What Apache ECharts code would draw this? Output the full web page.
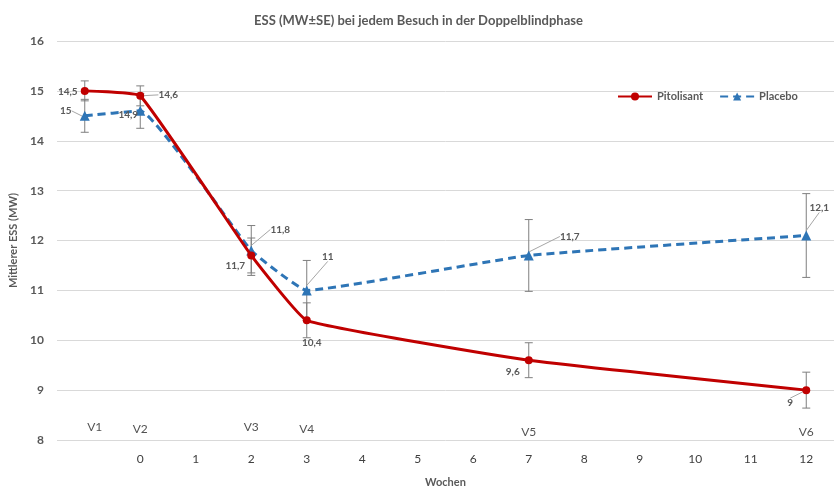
<!DOCTYPE html>
<html>
<head>
<meta charset="utf-8">
<script src="https://cdn.jsdelivr.net/npm/echarts@6/dist/echarts.min.js"></script>
<style>
html,body{margin:0;padding:0;background:#fff;}
#main{width:837px;height:493px;}
</style>
</head>
<body>
<div id="main"></div>
<script>
// ---- data ----
const weeks = [-1, 0, 2, 3, 7, 12];
const visits = ['V1', 'V2', 'V3', 'V4', 'V5', 'V6'];
const visitLabelY = [8.25, 8.22, 8.25, 8.22, 8.16, 8.16];
const pitolisant = [15.0, 14.9, 11.7, 10.4, 9.6, 9.0];
const placebo = [14.5, 14.6, 11.8, 11.0, 11.7, 12.1];
const pitolisantSE = [0.2, 0.2, 0.35, 0.35, 0.35, 0.36];
const placeboSE = [0.33, 0.35, 0.5, 0.6, 0.72, 0.84];
const pitolisantLabels = ['14,5', '14,6', '11,7', '10,4', '9,6', '9'];
const placeboLabels = ['15', '14,9', '11,8', '11', '11,7', '12,1'];
const yTicks = [8, 9, 10, 11, 12, 13, 14, 15, 16];

// ---- label placement (styling) ----
const pitOffsets = [[-17, 1], [28, -1], [-16, 10], [5, 22], [-16, 12], [-16, 13]];
const pitLeader = [false, true, false, false, false, true];
const plaOffsets = [[-19, -5], [-12, 4], [29, -21], [21, -34], [41, -19], [13, -28]];
const plaLeader = [true, false, true, true, true, true];
const visitOffsets = [[10, 0], [0, 0], [0, 0], [0, 0], [0, 0], [0, 0]];

const FONT = 'Lato, "Liberation Sans", sans-serif';
const GRAY = '#595959';
const RED = '#C00000';
const BLUE = '#2E75B6';

function seriesData(vals, labels, leaders) {
  return weeks.map((w, i) => ({
    value: [w, vals[i]],
    label: { formatter: labels[i] },
    labelLine: { show: leaders[i] }
  }));
}
function errData(vals, se) {
  return weeks.map((w, i) => [w, vals[i] - se[i], vals[i] + se[i]]);
}
function errRender(params, api) {
  const x = api.value(0);
  const lo = api.coord([x, api.value(1)]);
  const hi = api.coord([x, api.value(2)]);
  const cap = 4;
  const st = { stroke: '#7F7F7F', lineWidth: 1 };
  return {
    type: 'group',
    children: [
      { type: 'line', shape: { x1: lo[0], y1: lo[1], x2: hi[0], y2: hi[1] }, style: st },
      { type: 'line', shape: { x1: lo[0] - cap, y1: lo[1], x2: lo[0] + cap, y2: lo[1] }, style: st },
      { type: 'line', shape: { x1: hi[0] - cap, y1: hi[1], x2: hi[0] + cap, y2: hi[1] }, style: st }
    ]
  };
}
function layoutFor(offsets) {
  return function (p) {
    const o = offsets[p.dataIndex];
    return { dx: o[0], dy: o[1] };
  };
}
const labelStyle = {
  show: true, position: 'inside', align: 'center', verticalAlign: 'middle',
  color: GRAY, fontFamily: FONT, fontSize: 10, fontWeight: 'bold'
};
const labelLineStyle = { lineStyle: { color: '#A6A6A6', width: 1 }, length2: 0 };

const chart = echarts.init(document.getElementById('main'), null, { renderer: 'canvas' });
chart.setOption({
  backgroundColor: '#fff',
  animation: false,
  textStyle: { fontFamily: FONT },
  title: {
    text: 'ESS (MW±SE) bei jedem Besuch in der Doppelblindphase',
    left: 'center', top: 9,
    textStyle: { fontFamily: FONT, fontSize: 13, fontWeight: 'bold', color: GRAY }
  },
  legend: {
    left: 612, top: 86, itemWidth: 34, itemHeight: 10, itemGap: 16,
    textStyle: { fontFamily: FONT, fontSize: 11, fontWeight: 'bold', color: GRAY },
    data: ['Pitolisant', 'Placebo']
  },
  grid: { left: 50, right: -5, top: 41, bottom: 45, containLabel: false },
  xAxis: {
    type: 'value', min: -1.5, max: 12.5, interval: 0.5,
    name: 'Wochen', nameLocation: 'middle', nameGap: 37,
    nameTextStyle: { fontFamily: FONT, fontSize: 11, fontWeight: 'bold', color: GRAY },
    axisLine: { show: false }, axisTick: { show: false }, splitLine: { show: false },
    axisLabel: {
      margin: 13, color: '#404040', fontFamily: FONT, fontSize: 12,
      showMinLabel: true, showMaxLabel: true,
      formatter: v => (v >= 0 && Number.isInteger(v) && v <= 12) ? String(v) : ''
    }
  },
  yAxis: {
    type: 'value', min: yTicks[0], max: yTicks[yTicks.length - 1], interval: 1,
    name: 'Mittlerer ESS (MW)', nameLocation: 'middle', nameGap: 38,
    nameTextStyle: { fontFamily: FONT, fontSize: 11, fontWeight: 'bold', color: GRAY },
    axisLine: { show: false }, axisTick: { show: false },
    splitLine: { lineStyle: { color: '#D9D9D9', width: 1 } },
    axisLabel: { margin: 13, color: GRAY, fontFamily: FONT, fontSize: 12, fontWeight: 'bold' }
  },
  series: [
    {
      type: 'custom', name: 'errPit', renderItem: errRender, data: errData(pitolisant, pitolisantSE),
      z: 1, silent: true, encode: { x: 0, y: [1, 2] }
    },
    {
      type: 'custom', name: 'errPla', renderItem: errRender, data: errData(placebo, placeboSE),
      z: 1, silent: true, encode: { x: 0, y: [1, 2] }
    },
    {
      type: 'line', name: 'Pitolisant', smooth: 0.1, z: 3,
      data: seriesData(pitolisant, pitolisantLabels, pitLeader),
      symbol: 'circle', symbolSize: 8,
      lineStyle: { color: RED, width: 3 },
      itemStyle: { color: RED },
      label: labelStyle, labelLine: labelLineStyle,
      labelLayout: layoutFor(pitOffsets)
    },
    {
      type: 'line', name: 'Placebo', smooth: 0.1, z: 2,
      data: seriesData(placebo, placeboLabels, plaLeader),
      symbol: 'triangle', symbolSize: 10,
      lineStyle: { color: BLUE, width: 3, type: [8, 5] },
      itemStyle: { color: BLUE },
      label: labelStyle, labelLine: labelLineStyle,
      labelLayout: layoutFor(plaOffsets)
    },
    {
      type: 'scatter', name: 'visits', symbolSize: 0, silent: true, z: 4,
      data: weeks.map((w, i) => ({ value: [w, visitLabelY[i]], label: { formatter: visits[i], offset: visitOffsets[i] } })),
      label: { show: true, position: 'inside', color: '#262626', fontFamily: FONT, fontSize: 12 }
    }
  ]
});
</script>
</body>
</html>
